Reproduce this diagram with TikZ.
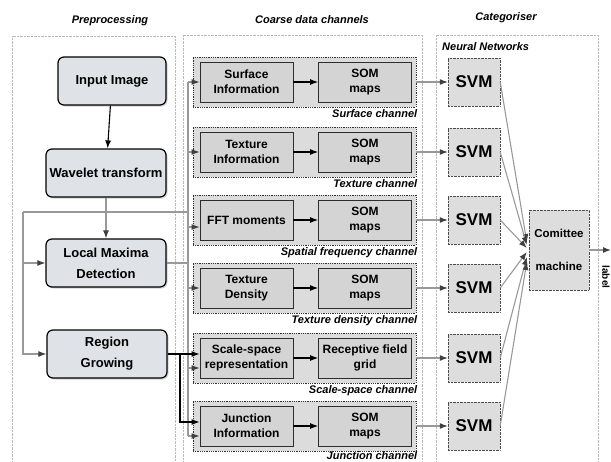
\documentclass[tikz,border=0pt]{standalone}
\usepackage{fontspec}
\setmainfont{Liberation Sans}
\usetikzlibrary{arrows.meta,shadows,calc}

\definecolor{boxfill}{HTML}{DFE3E7}
\definecolor{chanfill}{HTML}{DCDCDC}
\definecolor{innerfill}{HTML}{D4D4D4}
\definecolor{svmfill}{HTML}{DDDDDD}
\definecolor{wirecol}{HTML}{999999}

\tikzset{
  panel/.style={draw=gray!55, densely dotted},
  paneltitle/.style={font=\bfseries\itshape\fontsize{11}{13}\selectfont},
  prebox/.style={draw=black, very thick, rounded corners=6pt, fill=boxfill,
    drop shadow={shadow xshift=1.5pt, shadow yshift=-1.5pt, fill=gray!70},
    align=center, minimum width=120pt, minimum height=48pt, inner sep=2pt,
    font=\bfseries\fontsize{13}{21}\selectfont},
  chan/.style={draw=gray!40!black, densely dotted, thick, fill=chanfill,
    minimum width=223pt, minimum height=50pt, inner sep=0pt},
  inbox/.style={draw=gray!35!black, thick, fill=innerfill, align=center,
    minimum width=93pt, minimum height=40pt, inner sep=1pt,
    font=\bfseries\fontsize{12}{15}\selectfont},
  chanlabel/.style={anchor=north east, inner sep=1pt,
    font=\bfseries\itshape\fontsize{11}{13}\selectfont},
  svmbox/.style={draw=gray!60!black, densely dotted, fill=svmfill,
    minimum width=52pt, minimum height=48pt,
    font=\bfseries\fontsize{17}{19}\selectfont},
  commbox/.style={draw=gray!60!black, densely dotted, fill=svmfill, align=center,
    minimum width=60pt, minimum height=80pt,
    font=\bfseries\fontsize{11.5}{33}\selectfont},
  wireline/.style={draw=wirecol, line width=1.1pt},
  wirearrow/.style={draw=wirecol, line width=1.1pt, -{Latex[length=8pt,width=6pt,color=gray!50!black]}},
  blackarrow/.style={draw=black, line width=1.1pt, -{Latex[length=8pt,width=6pt]}},
}

\begin{document}
\begin{tikzpicture}[x=1pt,y=-1pt]
  \useasboundingbox (0,0) rectangle (611,461);

  % panels
  \draw[panel] (12,461) -- (12,36) -- (175,36) -- (175,461);
  \draw[panel] (183,461) -- (183,35) -- (422,35) -- (422,461);
  \draw[panel] (436,461) -- (436,35) -- (598,35) -- (598,461);
  \node[paneltitle] (pretitle) at (110,21) {Preprocessing};
  \node[paneltitle] (chantitle) at (312,20) {Coarse data channels};
  \node[paneltitle] (cattitle) at (506,18) {Categoriser};
  \node[paneltitle, anchor=west, inner sep=0pt] (nntitle) at (442,47) {Neural Networks};

  % preprocessing
  \node[prebox, minimum width=108pt] (input) at (112,81) {Input Image};
  \node[prebox] (wavelet) at (106,173) {Wavelet transform};
  \node[prebox] (maxima) at (106,263) {Local Maxima\\Detection};
  \node[prebox] (region) at (107,354) {Region\\Growing};

  % channels
  \node[chan] (surfch) at (304.5,82) {};
  \node[chan] (texch) at (304.5,152) {};
  \node[chan] (fftch) at (304.5,220) {};
  \node[chan] (densch) at (304.5,288) {};
  \node[chan] (scalech) at (304.5,358) {};
  \node[chan] (juncch) at (304.5,426) {};

  \node[inbox] (surfin) at (246.5,82) {Surface\\Information};
  \node[inbox] (surfsom) at (365,82) {SOM\\maps};
  \node[inbox] (texin) at (246.5,152) {Texture\\Information};
  \node[inbox] (texsom) at (365,152) {SOM\\maps};
  \node[inbox] (fftin) at (246.5,220) {FFT moments};
  \node[inbox] (fftsom) at (365,220) {SOM\\maps};
  \node[inbox] (densin) at (246.5,288) {Texture\\Density};
  \node[inbox] (denssom) at (365,288) {SOM\\maps};
  \node[inbox] (scalein) at (246.5,358) {Scale-space\\representation};
  \node[inbox] (scalefield) at (365,358) {Receptive field\\grid};
  \node[inbox] (juncin) at (246.5,426) {Junction\\Information};
  \node[inbox] (juncsom) at (365,426) {SOM\\maps};

  \node[chanlabel] (surflab) at ($(surfch.south east)+(2,1)$) {Surface channel};
  \node[chanlabel] (texlab) at ($(texch.south east)+(2,1)$) {Texture channel};
  \node[chanlabel] (fftlab) at ($(fftch.south east)+(2,1)$) {Spatial frequency channel};
  \node[chanlabel] (denslab) at ($(densch.south east)+(2,1)$) {Texture density channel};
  \node[chanlabel] (scalelab) at ($(scalech.south east)+(2,1)$) {Scale-space channel};
  \node[chanlabel] (junclab) at ($(juncch.south east)+(2,-1)$) {Junction channel};

  % categoriser
  \node[svmbox] (svm1) at (474,82) {SVM};
  \node[svmbox] (svm2) at (474,152) {SVM};
  \node[svmbox] (svm3) at (474,220) {SVM};
  \node[svmbox] (svm4) at (474,288) {SVM};
  \node[svmbox] (svm5) at (474,358) {SVM};
  \node[svmbox] (svm6) at (474,426) {SVM};
  \node[commbox] (comm) at (559,250) {Comittee\\machine};
  \node[rotate=-90, font=\bfseries\fontsize{10}{12}\selectfont, inner sep=0pt] (outlabel) at (606,277) {label};

  % helper points
  \coordinate (leftbus) at (23,212);
  \coordinate (bustop) at (188,82);
  \coordinate (busbot) at (188,436);
  \coordinate (rgfork) at (180,354);
  \coordinate (outend) at (611,250);

  % connectors
  \draw[blackarrow] (input) -- (wavelet);
  \draw[wirearrow] (wavelet) -- (maxima);
  \draw[wireline] (leftbus) -- (leftbus -| bustop);
  \draw[wirearrow] (leftbus) |- (maxima.west);
  \draw[wirearrow] (leftbus) |- (region.west);
  \draw[wireline] (maxima.east) -- (maxima.east -| bustop);
  \draw[wireline] (bustop) -- (busbot);
  \draw[wirearrow] (bustop) -- (surfin.west);
  \draw[wirearrow] (texin.west -| bustop) -- (texin.west);
  \draw[wirearrow] ([yshift=-7pt]fftin.west -| bustop) -- ([yshift=-7pt]fftin.west);
  \draw[wirearrow] (densin.west -| bustop) -- (densin.west);
  \draw[wirearrow] ([yshift=-10pt]scalein.west -| bustop) -- ([yshift=-10pt]scalein.west);
  \draw[wirearrow] (busbot) -- (busbot -| juncin.west);
  \draw[blackarrow] (region.east) -- (region.east -| scalein.west);
  \draw[blackarrow] (rgfork) |- ([yshift=4pt]juncin.west);

  \draw[blackarrow] (surfin) -- (surfsom);
  \draw[blackarrow] (texin) -- (texsom);
  \draw[blackarrow] (fftin) -- (fftsom);
  \draw[blackarrow] (densin) -- (denssom);
  \draw[blackarrow] (scalein) -- (scalefield);
  \draw[blackarrow] (juncin) -- (juncsom);

  \draw[wirearrow] (surfch) -- (svm1);
  \draw[wirearrow] (texch) -- (svm2);
  \draw[wirearrow] (fftch) -- (svm3);
  \draw[wirearrow] (densch) -- (svm4);
  \draw[wirearrow] (scalech) -- (svm5);
  \draw[wirearrow] (juncch) -- (svm6);

  \draw[wirearrow] (svm1.east) -- ($(comm.west)+(-2,-8)$);
  \draw[wirearrow] (svm2.east) -- ($(comm.west)+(-2,-5)$);
  \draw[wirearrow] (svm3.east) -- ($(comm.west)+(-2,-2)$);
  \draw[wirearrow] (svm4.east) -- ($(comm.west)+(-2,2)$);
  \draw[wirearrow] (svm5.east) -- ($(comm.west)+(-2,7)$);
  \draw[wirearrow] (svm6.east) -- ($(comm.west)+(-2,12)$);
  \draw[wirearrow] (comm.east) -- (outend);
\end{tikzpicture}
\end{document}
